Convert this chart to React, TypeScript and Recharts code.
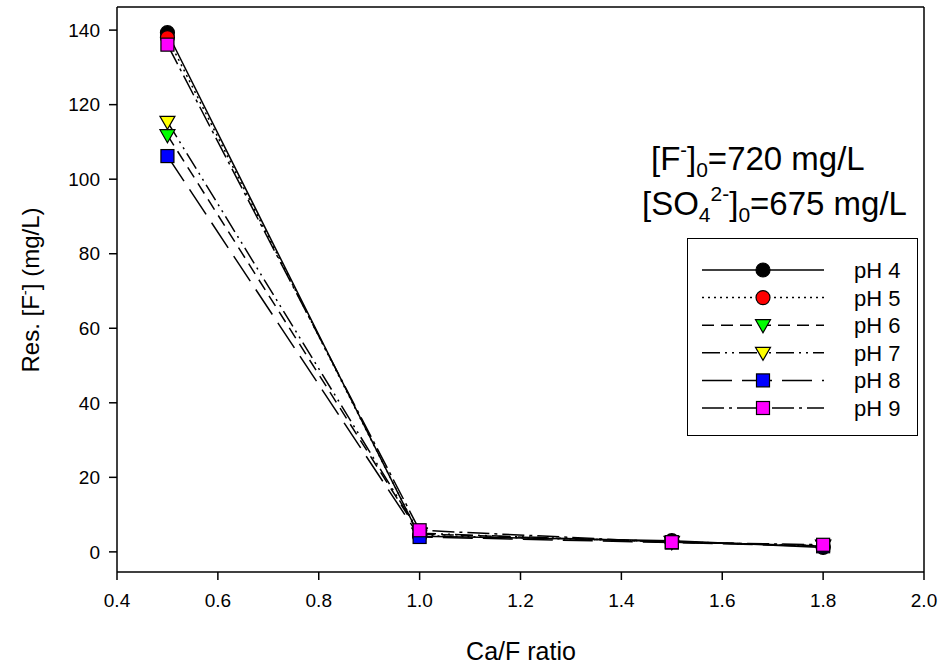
import React from 'react';
import { LineChart, Line, XAxis, YAxis, ReferenceLine, Label } from 'recharts';

const caF = [0.5, 1.0, 1.5, 1.8];
const pH4 = [139.3, 4.2, 3.0, 1.2];
const pH5 = [138.0, 4.4, 2.8, 1.5];
const pH6 = [111.8, 4.8, 2.7, 1.6];
const pH7 = [115.4, 5.0, 2.6, 1.7];
const pH8 = [106.2, 4.0, 2.5, 1.5];
const pH9 = [136.1, 5.8, 2.6, 1.9];

const xTicks = [0.4, 0.6, 0.8, 1.0, 1.2, 1.4, 1.6, 1.8, 2.0];
const yTicks = [0, 20, 40, 60, 80, 100, 120, 140];
const seriesNames = ['pH 4', 'pH 5', 'pH 6', 'pH 7', 'pH 8', 'pH 9'];
const seriesKeys = ['pH4', 'pH5', 'pH6', 'pH7', 'pH8', 'pH9'];
const seriesValues = [pH4, pH5, pH6, pH7, pH8, pH9];

const styles = [
  { shape: 'circle', fill: '#000000', dash: undefined },
  { shape: 'circle', fill: '#ff0000', dash: '2 4' },
  { shape: 'tri', fill: '#00ff00', dash: '12 7' },
  { shape: 'tri', fill: '#ffff00', dash: '18 5 2 5 2 5' },
  { shape: 'square', fill: '#0000ff', dash: '30 10' },
  { shape: 'square', fill: '#ff00ff', dash: '22 5 3 5' },
];

const data = caF.map((x, i) => {
  const row: any = { x };
  seriesKeys.forEach((k, j) => (row[k] = seriesValues[j][i]));
  return row;
});

const FONT = '"Liberation Sans", Arial, sans-serif';

function Marker({ shape, fill, cx, cy }: any) {
  if (cx == null || cy == null) return null;
  if (shape === 'circle') return <circle cx={cx} cy={cy} r={7} fill={fill} stroke="#000" strokeWidth={1.2} />;
  if (shape === 'square') return <rect x={cx - 6.5} y={cy - 6.5} width={13} height={13} fill={fill} stroke="#000" strokeWidth={1.2} />;
  return (
    <polygon
      points={`${cx - 7.5},${cy - 5.5} ${cx + 7.5},${cy - 5.5} ${cx},${cy + 7.5}`}
      fill={fill}
      stroke="#000"
      strokeWidth={1.2}
    />
  );
}

function LegendBox() {
  return (
    <div style={{ position: 'absolute', left: 687, top: 238, width: 231, height: 198, border: '1.5px solid #000', boxSizing: 'border-box', background: '#fff' }}>
      <svg width={229} height={195} style={{ display: 'block' }}>
        {seriesNames.map((n, i) => {
          const y = 31 + i * 27.6;
          const s = styles[i];
          return (
            <g key={n}>
              <line x1={14} x2={136} y1={y} y2={y} stroke="#000" strokeWidth={1.5} strokeDasharray={s.dash} />
              <Marker shape={s.shape} fill={s.fill} cx={75} cy={y} />
              <text x={166} y={y + 8} fontFamily={FONT} fontSize={22} fill="#000">{n}</text>
            </g>
          );
        })}
      </svg>
    </div>
  );
}

export default function App() {
  return (
    <div style={{ position: 'absolute', left: 0, top: 0, width: 942, height: 665, background: '#fff' }}>
      <LineChart width={942} height={665} data={data} margin={{ top: 7, right: 18, bottom: 0, left: 0 }}>
        <XAxis
          dataKey="x"
          type="number"
          domain={[0.4, 2.0]}
          ticks={xTicks}
          tickFormatter={(v: number) => v.toFixed(1)}
          allowDataOverflow
          height={93}
          tickSize={8}
          tickMargin={14}
          stroke="#000"
          strokeWidth={1.5}
          tick={{ fill: '#000', fontSize: 19, fontFamily: FONT }}
        >
          <Label
            content={() => (
              <text x={521} y={660} textAnchor="middle" fontFamily={FONT} fontSize={25} fill="#000">Ca/F ratio</text>
            )}
          />
        </XAxis>
        <YAxis
          type="number"
          domain={[-5.4, 146.2]}
          ticks={yTicks}
          allowDataOverflow
          width={117}
          tickSize={8}
          tickMargin={9}
          stroke="#000"
          strokeWidth={1.5}
          tick={{ fill: '#000', fontSize: 19, fontFamily: FONT }}
        >
          <Label
            content={() => (
              <text transform="translate(39,290) rotate(-90)" textAnchor="middle" fontFamily={FONT} fontSize={24} fill="#000">
                Res. [F<tspan fontSize={15} dy={-9}>-</tspan><tspan dy={9}>] (mg/L)</tspan>
              </text>
            )}
          />
        </YAxis>
        <ReferenceLine y={146.2} stroke="#000" strokeWidth={1.5} ifOverflow="visible" />
        <ReferenceLine x={2.0} stroke="#000" strokeWidth={1.5} ifOverflow="visible" />
        {seriesKeys.map((k, i) => (
          <Line
            key={k}
            dataKey={k}
            name={seriesNames[i]}
            stroke="#000"
            strokeWidth={1.5}
            strokeDasharray={styles[i].dash}
            isAnimationActive={false}
            dot={(p: any) => <Marker key={`${k}-${p.index}`} shape={styles[i].shape} fill={styles[i].fill} cx={p.cx} cy={p.cy} />}
          />
        ))}
      </LineChart>
      <LegendBox />
      <svg width={942} height={665} style={{ position: 'absolute', left: 0, top: 0, pointerEvents: 'none' }}>
        <text x={651} y={170} fontFamily={FONT} fontSize={33} fill="#000">
          [F<tspan fontSize={20} dy={-13}>-</tspan>
          <tspan dy={13}>]</tspan>
          <tspan fontSize={21} dy={7}>0</tspan>
          <tspan dy={-7}>=720 mg/L</tspan>
        </text>
        <text x={642} y={215} fontFamily={FONT} fontSize={33} fill="#000">
          [SO<tspan fontSize={21} dy={7}>4</tspan>
          <tspan fontSize={21} dy={-21}>2-</tspan>
          <tspan dy={14}>]</tspan>
          <tspan fontSize={21} dy={7}>0</tspan>
          <tspan dy={-7}>=675 mg/L</tspan>
        </text>
      </svg>
    </div>
  );
}
